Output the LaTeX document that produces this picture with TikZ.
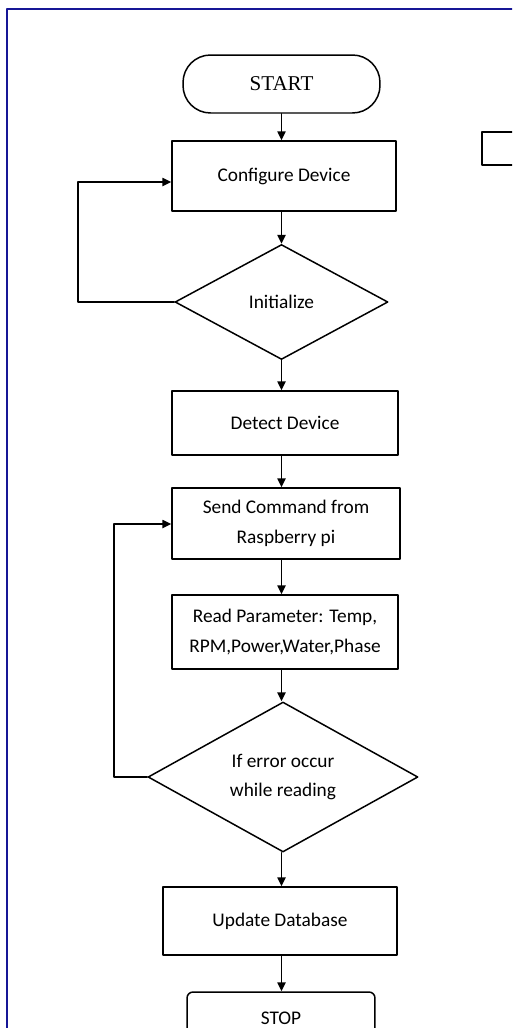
\documentclass[tikz,border=0pt]{standalone}
\usepackage{fontspec}
\setmainfont{Carlito}
\newfontfamily\startfont{Liberation Serif}
\usetikzlibrary{shapes.geometric,arrows.meta}
\definecolor{frameblue}{RGB}{22,22,150}
\tikzset{
  term/.style={draw,line width=0.85pt,rectangle,rounded corners=0.55cm,minimum width=3.94cm,minimum height=1.16cm},
  proc/.style={draw,line width=0.85pt,rectangle,align=center,inner sep=0pt,font=\fontsize{11}{17}\selectfont},
  dec/.style={draw,line width=0.85pt,diamond,aspect=1.8,align=center,inner sep=0pt,font=\fontsize{11}{17}\selectfont},
  flow/.style={->,line width=0.85pt}
}
\begin{document}
\begin{tikzpicture}[line cap=round,line join=round,>={Triangle[length=5pt,width=4.6pt]},x=0.02cm,y=-0.02cm]
\clip (0,0) rectangle (512,1028);
% frame and side box
\draw[frameblue,line width=1.2pt] (7,1060) -- (7,9) -- (540,9);
\draw[line width=0.85pt] (540,132) -- (482,132) -- (482,165) -- (540,165);
% nodes
\node[term] (start) at (281.5,84) {\startfont\fontsize{12}{14}\selectfont START};
\node[proc,minimum width=4.48cm,minimum height=1.4cm] (config) at (284,176) {Configure Device};
\node[dec,minimum width=4.26cm,minimum height=2.3cm] (init) at (281.5,302) {Initialize};
\node[proc,minimum width=4.52cm,minimum height=1.28cm] (detect) at (285,423) {Detect Device};
\node[proc,minimum width=4.56cm,minimum height=1.42cm] (send) at (286,523.5) {Send Command from\\Raspberry pi};
\node[proc,minimum width=4.52cm,minimum height=1.48cm] (read) at (285,632) {Read Parameter: Temp,\\RPM,Power,Water,Phase};
\node[dec,minimum width=5.4cm,minimum height=3.0cm] (err) at (283,777) {If error occur\\while reading};
\node[proc,minimum width=4.68cm,minimum height=1.36cm] (update) at (280,921) {Update Database};
\node[proc,rounded corners=0.12cm,minimum width=3.76cm,minimum height=1.04cm] (stop) at (281,1018) {STOP};
\coordinate (loopa) at (78,182);
\coordinate (loopb) at (114,524);
% connectors
\draw[flow] (start.south) -- (start.south |- config.north);
\draw[flow] (init.north |- config.south) -- (init.north);
\draw[flow] (init.south) -- (init.south |- detect.north);
\draw[flow] (init.south |- detect.south) -- (init.south |- send.north);
\draw[flow] (init.south |- send.south) -- (init.south |- read.north);
\draw[flow] (init.south |- read.south) -- (init.south |- err.north);
\draw[flow] (init.south |- err.south) -- (init.south |- update.north);
\draw[flow] (init.south |- update.south) -- (init.south |- stop.north);
\draw[flow] (init.west) -| (loopa) -- (loopa -| config.west);
\draw[flow] (err.west) -| (loopb) -- (loopb -| send.west);
\end{tikzpicture}
\end{document}
